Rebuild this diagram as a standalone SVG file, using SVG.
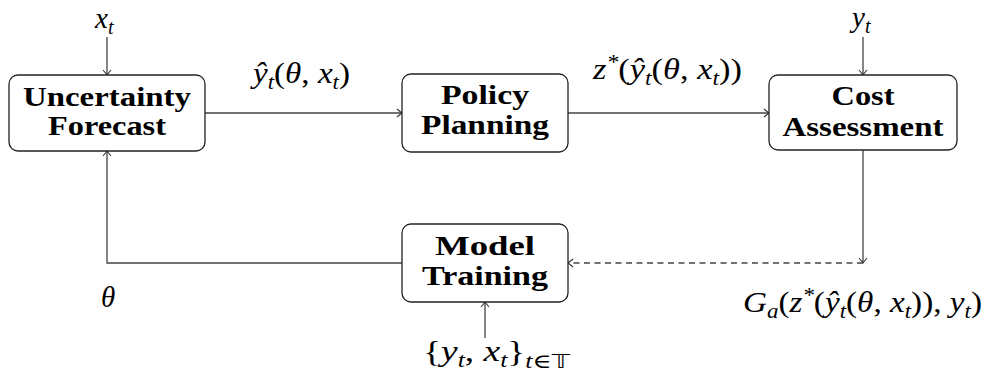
<svg xmlns="http://www.w3.org/2000/svg" width="985" height="375" viewBox="0 0 985 375">
<style>
.box{fill:#fff;stroke:#222;stroke-width:1.3}
.lbl{font-family:"Liberation Serif","DejaVu Serif",serif;font-weight:bold;font-size:28px;fill:#000;text-anchor:middle}
.math{font-family:"Liberation Serif","DejaVu Serif",serif;font-style:italic;font-size:29px;fill:#000}
.up{font-style:normal}
.sub{font-size:20px}
.edge{fill:none;stroke:#444;stroke-width:1.3}
.dash{stroke-dasharray:6 4.5}
</style>
<defs>
<marker id="arr" viewBox="-6 -5 8 10" markerWidth="8" markerHeight="10" refX="0" refY="0" orient="auto" markerUnits="userSpaceOnUse">
<path d="M-5,-4 Q-1.5,-1 0,0 Q-1.5,1 -5,4" fill="none" stroke="#333" stroke-width="1.1"/>
</marker>
</defs>
<g id="connectors">
<line class="edge" x1="107" y1="37" x2="107" y2="75" marker-end="url(#arr)"/>
<line class="edge" x1="863" y1="37" x2="863" y2="75" marker-end="url(#arr)"/>
<line class="edge" x1="205" y1="113" x2="402" y2="113" marker-end="url(#arr)"/>
<line class="edge" x1="568" y1="113" x2="769" y2="113" marker-end="url(#arr)"/>
<line class="edge" x1="863" y1="150" x2="863" y2="263" marker-end="url(#arr)"/>
<line class="edge dash" x1="863" y1="263" x2="568" y2="263" marker-end="url(#arr)"/>
<path class="edge" d="M402,263 H107 V151" marker-end="url(#arr)"/>
<line class="edge" x1="485" y1="338" x2="485" y2="302" marker-end="url(#arr)"/>
</g>
<g id="forecast">
<rect class="box" x="9" y="75" width="196" height="76" rx="9"/>
<text class="lbl" x="107" y="106" textLength="168" lengthAdjust="spacingAndGlyphs">Uncertainty</text>
<text class="lbl" x="107" y="135" textLength="118" lengthAdjust="spacingAndGlyphs">Forecast</text>
</g>
<g id="policy">
<rect class="box" x="402" y="74" width="166" height="78" rx="9"/>
<text class="lbl" x="485" y="104" textLength="88" lengthAdjust="spacingAndGlyphs">Policy</text>
<text class="lbl" x="485" y="134" textLength="128" lengthAdjust="spacingAndGlyphs">Planning</text>
</g>
<g id="cost">
<rect class="box" x="769" y="75" width="188" height="75" rx="9"/>
<text class="lbl" x="863" y="105" textLength="63" lengthAdjust="spacingAndGlyphs">Cost</text>
<text class="lbl" x="863" y="136" textLength="161" lengthAdjust="spacingAndGlyphs">Assessment</text>
</g>
<g id="training">
<rect class="box" x="402" y="224" width="166" height="78" rx="9"/>
<text class="lbl" x="485" y="255" textLength="100" lengthAdjust="spacingAndGlyphs">Model</text>
<text class="lbl" x="485" y="285" textLength="126" lengthAdjust="spacingAndGlyphs">Training</text>
</g>
<g id="labels">
<text class="math" x="95" y="28">x<tspan class="sub" dy="6">t</tspan></text>
<text class="math" x="852" y="27">y<tspan class="sub" dy="6">t</tspan></text>
<text class="math" x="253" y="83" textLength="97" lengthAdjust="spacingAndGlyphs">ŷ<tspan class="sub" dy="6">t</tspan><tspan class="up" dy="-6">(</tspan>θ<tspan class="up">, </tspan>x<tspan class="sub" dy="6">t</tspan><tspan class="up" dy="-6">)</tspan></text>
<text class="math" x="593" y="79" textLength="149" lengthAdjust="spacingAndGlyphs">z<tspan class="sub" dy="-10">*</tspan><tspan class="up" dy="10">(</tspan>ŷ<tspan class="sub" dy="6">t</tspan><tspan class="up" dy="-6">(</tspan>θ<tspan class="up">, </tspan>x<tspan class="sub" dy="6">t</tspan><tspan class="up" dy="-6">))</tspan></text>
<text class="math" x="101" y="307">θ</text>
<text class="math" x="743" y="312" textLength="239" lengthAdjust="spacingAndGlyphs">G<tspan class="sub" dy="6">a</tspan><tspan class="up" dy="-6">(</tspan>z<tspan class="sub" dy="-10">*</tspan><tspan class="up" dy="10">(</tspan>ŷ<tspan class="sub" dy="6">t</tspan><tspan class="up" dy="-6">(</tspan>θ<tspan class="up">, </tspan>x<tspan class="sub" dy="6">t</tspan><tspan class="up" dy="-6">)), </tspan>y<tspan class="sub" dy="6">t</tspan><tspan class="up" dy="-6">)</tspan></text>
<text class="math" x="423" y="361" textLength="147" lengthAdjust="spacingAndGlyphs"><tspan class="up">{</tspan>y<tspan class="sub" dy="6">t</tspan><tspan class="up" dy="-6">, </tspan>x<tspan class="sub" dy="6">t</tspan><tspan class="up" dy="-6">}</tspan><tspan class="sub" dy="7">t<tspan class="up">∈</tspan><tspan class="up" font-family="DejaVu Sans, sans-serif">𝕋</tspan></tspan></text>
</g>
</svg>
